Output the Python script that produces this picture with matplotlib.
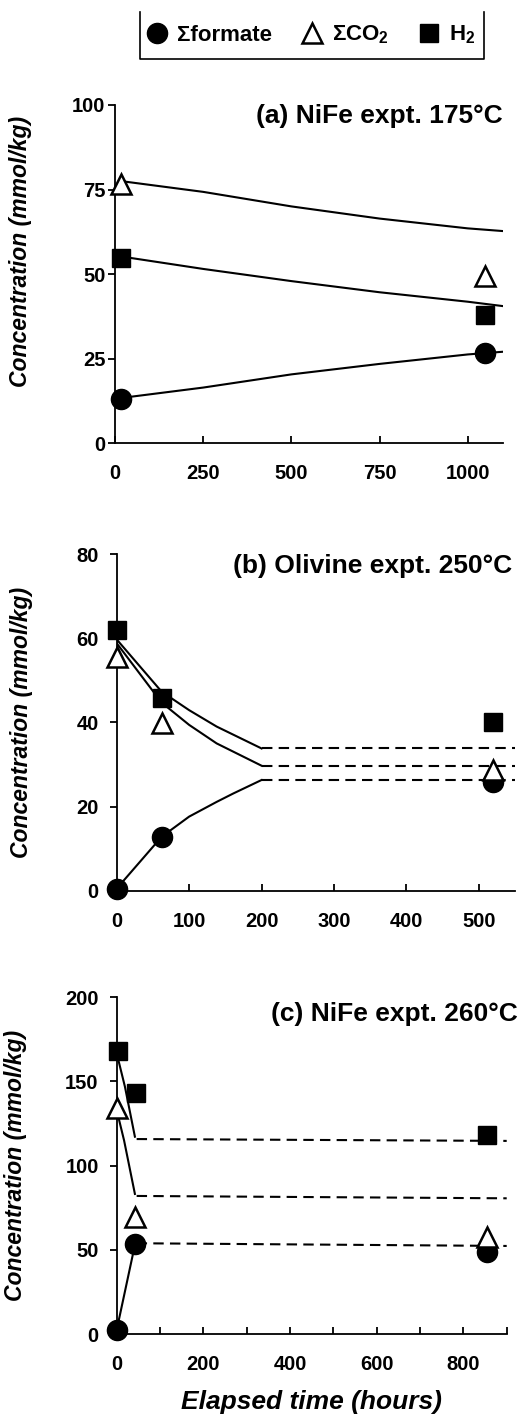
import matplotlib
matplotlib.use("Agg")
import matplotlib.pyplot as plt
from matplotlib.lines import Line2D
from matplotlib.ticker import MultipleLocator

plt.rcParams['font.family'] = ['Liberation Sans', 'DejaVu Sans']
plt.rcParams['font.weight'] = 'bold'
plt.rcParams['mathtext.fontset'] = 'custom'
plt.rcParams['mathtext.rm'] = 'Liberation Sans:bold'
plt.rcParams['mathtext.default'] = 'rm'

# ---------------- data ----------------
series_labels = ["\u03a3formate", "\u03a3CO$_2$", "H$_2$"]

# (a) NiFe expt. 175 C
a_obs_t = [16, 1050]
a_formate = [13.1, 26.7]
a_co2 = [76.5, 49.4]
a_h2 = [54.8, 37.8]
a_model_t = [16, 250, 500, 750, 1000, 1100]
a_model_co2 = [77.5, 74.3, 70.0, 66.4, 63.5, 62.7]
a_model_h2 = [55.2, 51.5, 47.9, 44.6, 41.8, 40.5]
a_model_formate = [13.3, 16.4, 20.3, 23.4, 26.2, 27.0]

# (b) Olivine expt. 250 C
b_obs_t = [0, 62, 519]
b_formate = [0.5, 12.8, 25.9]
b_co2 = [55.6, 39.9, 28.7]
b_h2 = [61.9, 45.7, 40.2]
b_model_t = [0, 62, 100, 138, 200]
b_model_h2 = [59.7, 47.3, 42.9, 39.0, 33.8]
b_model_co2 = [58.8, 44.7, 39.4, 35.0, 29.7]
b_model_formate_t = [0, 62, 100, 138, 161, 200]
b_model_formate = [0.5, 12.8, 17.6, 21.1, 23.1, 26.3]
b_dash_t = [200, 550]
b_dash_h2 = [33.8, 33.8]
b_dash_co2 = [29.7, 29.7]
b_dash_formate = [26.3, 26.3]

# (c) NiFe expt. 260 C
c_h2_t = [4, 44, 855]
c_h2 = [168, 143, 118]
c_co2_t = [0, 42, 855]
c_co2 = [134, 69.7, 57.8]
c_formate_t = [0, 42, 855]
c_formate = [2.4, 53.3, 48.9]
c_model_h2_t = [1, 19, 42]
c_model_h2 = [165.7, 146.9, 117.2]
c_model_co2_t = [0, 17, 42]
c_model_co2 = [133, 115, 83.2]
c_model_formate_t = [0, 42]
c_model_formate = [2.4, 52.9]
c_dash_t = [46, 900]
c_dash_h2 = [115.8, 114.7]
c_dash_co2 = [82.0, 80.6]
c_dash_formate = [53.9, 52.3]

# ---------------- figure ----------------
W, H = 528, 1417
fig = plt.figure(figsize=(W / 100, H / 100), dpi=100)


def rect(l, r, t, b):
    return [l / W, 1 - b / H, (r - l) / W, (b - t) / H]


LW = 1.5
MS_C, MS_T, MS_S = 14.5, 14.5, 13
DASH = (0, (5, 3))
TICK_FS = 14.5


def markers(ax, t_f, f, t_c, c, t_h, h):
    ax.plot(t_f, f, 'o', color='black', ms=MS_C, clip_on=False, zorder=5)
    ax.plot(t_c, c, '^', mfc='white', mec='black', mew=1.8, ms=MS_T, clip_on=False, zorder=5)
    ax.plot(t_h, h, 's', color='black', ms=MS_S, clip_on=False, zorder=5)


def style(ax, ylabel_xy, ypad):
    for s in ['top', 'right']:
        ax.spines[s].set_visible(False)
    for s in ['left', 'bottom']:
        ax.spines[s].set_linewidth(1.3)
    ax.tick_params(axis='x', which='both', direction='in', length=5, width=1.3,
                   pad=15, labelsize=TICK_FS)
    ax.tick_params(axis='y', direction='out', length=5, width=1.3, pad=ypad, labelsize=TICK_FS)
    for lab in ax.get_xticklabels() + ax.get_yticklabels():
        lab.set_fontweight('bold')
    ax.set_ylabel('Concentration (mmol/kg)', fontsize=16.5, fontweight='bold', style='italic')
    ax.yaxis.set_label_coords(*ylabel_xy)


# panel a
axa = fig.add_axes(rect(115, 503, 105, 443))
axa.plot(a_model_t, a_model_co2, '-', color='black', lw=LW)
axa.plot(a_model_t, a_model_h2, '-', color='black', lw=LW)
axa.plot(a_model_t, a_model_formate, '-', color='black', lw=LW)
markers(axa, a_obs_t, a_formate, a_obs_t, a_co2, a_obs_t, a_h2)
axa.set_xlim(0, 1100)
axa.set_ylim(0, 100)
axa.set_xticks([0, 250, 500, 750, 1000])
axa.set_yticks([0, 25, 50, 75, 100])
style(axa, ((32 - 115) / 388, (443 - 251) / 338), 2)

# panel b
axb = fig.add_axes(rect(116.7, 515, 554, 890.7))
axb.plot(b_model_t, b_model_h2, '-', color='black', lw=LW)
axb.plot(b_model_t, b_model_co2, '-', color='black', lw=LW)
axb.plot(b_model_formate_t, b_model_formate, '-', color='black', lw=LW)
for d in (b_dash_h2, b_dash_co2, b_dash_formate):
    axb.plot(b_dash_t, d, color='black', lw=LW, ls=DASH)
markers(axb, b_obs_t, b_formate, b_obs_t, b_co2, b_obs_t, b_h2)
axb.set_xlim(0, 550)
axb.set_ylim(0, 80)
axb.set_xticks([0, 100, 200, 300, 400, 500])
axb.set_yticks([0, 20, 40, 60, 80])
style(axb, ((33 - 116.7) / 398.3, 0.5), 8)

# panel c
axc = fig.add_axes(rect(116.7, 506.7, 997.3, 1334))
axc.plot(c_model_h2_t, c_model_h2, '-', color='black', lw=LW)
axc.plot(c_model_co2_t, c_model_co2, '-', color='black', lw=LW)
axc.plot(c_model_formate_t, c_model_formate, '-', color='black', lw=LW)
for d in (c_dash_h2, c_dash_co2, c_dash_formate):
    axc.plot(c_dash_t, d, color='black', lw=LW, ls=DASH)
markers(axc, c_formate_t, c_formate, c_co2_t, c_co2, c_h2_t, c_h2)
axc.set_xlim(0, 900)
axc.set_ylim(0, 200)
axc.set_xticks([0, 200, 400, 600, 800])
axc.xaxis.set_minor_locator(MultipleLocator(100))
axc.set_yticks([0, 50, 100, 150, 200])
style(axc, ((27 - 116.7) / 390, 0.5), 8)
axc.set_xlabel('Elapsed time (hours)', fontsize=19, fontweight='bold', style='italic',
               labelpad=12)

# panel titles
titles = ["(a) NiFe expt. 175\u00b0C", "(b) Olivine expt. 250\u00b0C", "(c) NiFe expt. 260\u00b0C"]
title_pos = [(503, 116), (512, 566), (518, 1014)]
for txt, (x, y) in zip(titles, title_pos):
    fig.text(x / W, 1 - y / H, txt, ha='right', va='center', fontsize=19, fontweight='bold')

# legend
handles = [
    Line2D([], [], ls='none', marker='o', color='black', ms=MS_C),
    Line2D([], [], ls='none', marker='^', mfc='white', mec='black', mew=1.8, ms=MS_T),
    Line2D([], [], ls='none', marker='s', color='black', ms=MS_S),
]
fig.legend(handles, series_labels, loc='center', bbox_to_anchor=(311 / W, 1 - 35 / H),
           ncol=3, frameon=False, handlelength=1.0, handletextpad=0.4,
           columnspacing=1.3, prop={'size': 16, 'weight': 'bold'})
box_x = [140 / W, 140 / W, 484 / W, 484 / W]
box_y = [1 - 12 / H, 1 - 59 / H, 1 - 59 / H, 1 - 12 / H]
fig.add_artist(Line2D(box_x, box_y, color='black', lw=1.2, transform=fig.transFigure))

fig.savefig('out.png', dpi=100)
